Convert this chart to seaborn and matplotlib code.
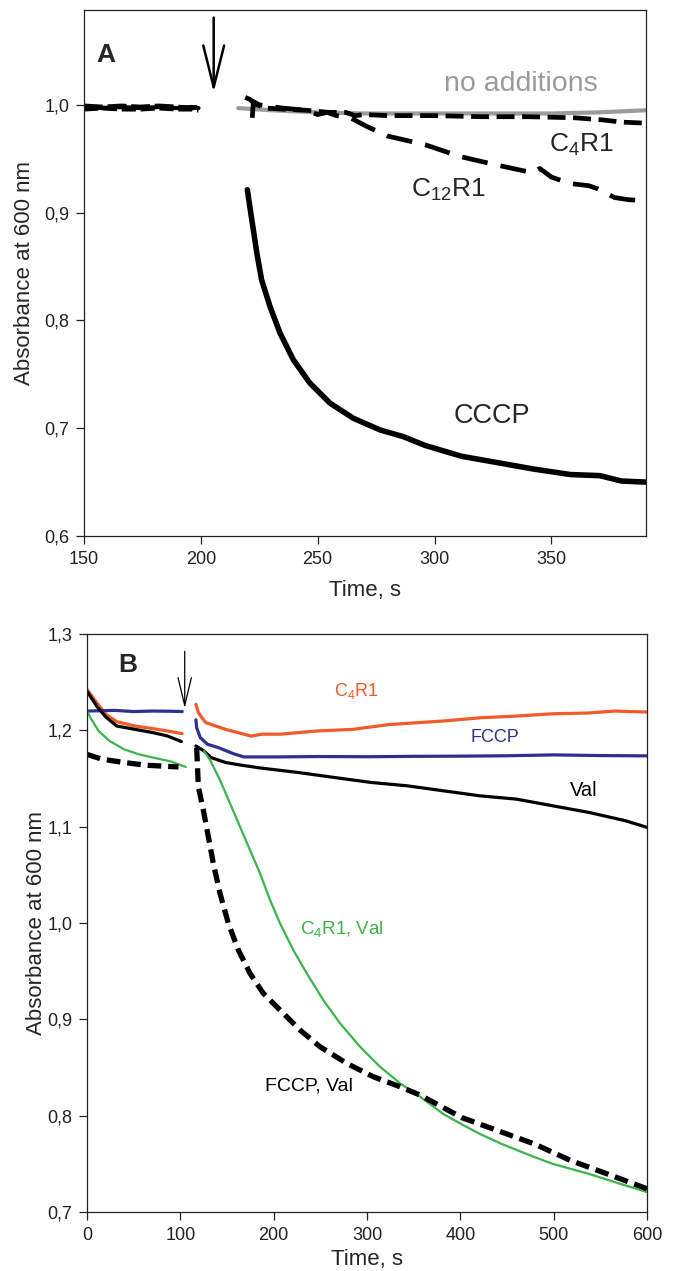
import matplotlib
matplotlib.use("Agg")
import matplotlib.pyplot as plt
import seaborn as sns
from matplotlib.ticker import FuncFormatter, FixedLocator

# ---------------- Panel A data ----------------
a_pre_t = [150, 158, 166, 174, 182, 190, 196, 199]
a_pre_cccp = [0.998, 0.997, 0.998, 0.997, 0.998, 0.997, 0.998, 0.997]
a_pre_c4 = [0.996, 0.997, 0.996, 0.996, 0.997, 0.996, 0.996, 0.995]
a_pre_c12 = [0.999, 0.998, 0.999, 0.998, 0.999, 0.998, 0.997, 0.998]

a_noadd_t = [216, 230, 250, 270, 290, 320, 350, 370, 390.5]
a_noadd_y = [0.997, 0.995, 0.993, 0.992, 0.992, 0.992, 0.992, 0.993, 0.995]

a_c4_t = [219, 221, 224, 228, 235, 245, 255, 262, 266, 270, 280, 300, 320, 340, 360, 372, 380, 390.5]
a_c4_y = [1.007, 1.005, 1.000, 0.997, 0.996, 0.995, 0.993, 0.993, 0.990, 0.991, 0.990, 0.990,
          0.989, 0.989, 0.988, 0.986, 0.984, 0.983]

a_c12_t = [222, 222.5, 225, 235, 245, 250, 254, 258, 264, 271, 280, 296, 311, 327, 342, 345,
           350, 358, 366, 370, 377, 383, 390.5]
a_c12_y = [0.988, 1.003, 1.000, 0.997, 0.995, 0.991, 0.993, 0.990, 0.988, 0.980, 0.971, 0.963,
           0.952, 0.944, 0.937, 0.941, 0.933, 0.927, 0.925, 0.922, 0.914, 0.912, 0.911]

a_cccp_t = [219.9, 221.0, 222.4, 224.0, 226.0, 229.6, 233.9, 239.6, 246.7, 255.3, 265.2, 276.7,
            286.6, 296, 311.5, 327.1, 342.7, 358.2, 370.7, 380, 390.5]
a_cccp_y = [0.9213, 0.905, 0.885, 0.862, 0.8377, 0.8129, 0.7882, 0.7634, 0.7418, 0.7232,
            0.7093, 0.6984, 0.6922, 0.684, 0.674, 0.668, 0.662, 0.657, 0.656, 0.651, 0.650]

a_xticks = [150, 200, 250, 300, 350]
a_yticks = [0.6, 0.7, 0.8, 0.9, 1.0]

# ---------------- Panel B data ----------------
b_c4_pre_t = [0, 10.5, 20.2, 31.9, 51.4, 70.8, 86.4, 101.9]
b_c4_pre_y = [1.2424, 1.2286, 1.2166, 1.209, 1.2045, 1.2017, 1.1993, 1.1966]
b_c4_t = [116.7, 119.5, 127.2, 148.6, 175.9, 187.5, 207, 246, 284.8, 323.7, 382, 421, 460,
          498.8, 537.7, 565, 600]
b_c4_y = [1.227, 1.218, 1.208, 1.201, 1.194, 1.196, 1.196, 1.1993, 1.201, 1.206, 1.2097,
          1.213, 1.2148, 1.2172, 1.218, 1.220, 1.219]

b_fccp_pre_t = [0, 30, 50, 70, 90, 102]
b_fccp_pre_y = [1.220, 1.2207, 1.2195, 1.2200, 1.2198, 1.2195]
b_fccp_t = [116.7, 117.5, 121.4, 129.2, 140.9, 156.4, 168, 200, 250, 300, 350, 400, 450,
            500, 550, 600]
b_fccp_y = [1.211, 1.2028, 1.1924, 1.1855, 1.182, 1.1759, 1.1724, 1.1724, 1.1728, 1.1726,
            1.1730, 1.1732, 1.1736, 1.1745, 1.1738, 1.1735]

b_val_pre_t = [0, 10.5, 20.2, 31.9, 51.4, 70.8, 86.4, 101.2]
b_val_pre_y = [1.2407, 1.225, 1.2138, 1.2045, 1.201, 1.1976, 1.1941, 1.1883]
b_val_t = [116.7, 125.3, 133, 148.6, 164, 187.5, 226.5, 265.4, 304.3, 343.2, 382.1, 421,
           459.9, 498.8, 537.7, 576.7, 600]
b_val_y = [1.1838, 1.1786, 1.1717, 1.1666, 1.164, 1.1607, 1.1562, 1.151, 1.1459, 1.1424,
           1.1372, 1.132, 1.1286, 1.1217, 1.1148, 1.1062, 1.0993]

b_c4val_pre_t = [0, 4.7, 12.5, 24.1, 39.7, 55.3, 70.8, 90.3, 105.8]
b_c4val_pre_y = [1.220, 1.2114, 1.1993, 1.189, 1.1803, 1.1752, 1.1717, 1.1676, 1.162]
b_c4val_t = [125.3, 131.8, 142.5, 153.2, 163.9, 174.6, 185.4, 196.1, 206.8, 221.0, 235.4,
             253.2, 271.1, 292.5, 313.9, 335.4, 356.8, 382.1, 401.6, 421, 444.4, 479.4,
             498.8, 537.7, 576.7, 600]
b_c4val_y = [1.1786, 1.1692, 1.1484, 1.1243, 1.100, 1.0758, 1.0516, 1.0239, 0.9997, 0.972,
             0.9478, 0.920, 0.8959, 0.8716, 0.8508, 0.8336, 0.8197, 0.8015, 0.791, 0.781,
             0.7706, 0.757, 0.750, 0.7396, 0.7276, 0.7207]

b_fv_pre_t = [0, 16.3, 39.7, 63, 98]
b_fv_pre_y = [1.175, 1.170, 1.1666, 1.1638, 1.162]
b_fv_t = [117.5, 119.3, 124.6, 130.0, 135.3, 142.5, 151.4, 162.1, 174.6, 188.9, 206.8, 228.2,
          249.6, 278.2, 306.8, 335.4, 356.8, 401.6, 440.5, 479.4, 518.3, 557.2, 600]
b_fv_y = [1.182, 1.1415, 1.1173, 1.0896, 1.062, 1.0308, 0.9997, 0.972, 0.9478, 0.927,
          0.9097, 0.8889, 0.8716, 0.8543, 0.8404, 0.830, 0.8214, 0.798, 0.7843, 0.7706,
          0.7534, 0.7396, 0.7241]

b_xticks = [0, 100, 200, 300, 400, 500, 600]
b_yticks = [0.7, 0.8, 0.9, 1.0, 1.1, 1.2, 1.3]

# ---------------- Style ----------------
sns.set_style("ticks")
plt.rcParams["font.family"] = ["Liberation Sans", "DejaVu Sans"]
plt.rcParams["mathtext.fontset"] = "custom"
plt.rcParams["mathtext.rm"] = "Liberation Sans"
plt.rcParams["mathtext.default"] = "regular"

ORANGE = "#f15a29"
BLUE = "#2e3192"
GREEN = "#39b54a"
GRAY = "#9b9b9b"

fig = plt.figure(figsize=(6.76, 12.71), dpi=100)
axA = fig.add_axes([84 / 676, 1 - 536 / 1271, 562 / 676, 526 / 1271])
axB = fig.add_axes([87 / 676, 1 - 1212 / 1271, 560 / 676, 578 / 1271])


def line(ax, t, y, **kw):
    sns.lineplot(x=t, y=y, ax=ax, estimator=None, sort=False, legend=False, **kw)


comma = FuncFormatter(lambda v, p: f"{v:.1f}".replace(".", ","))
intfmt = FuncFormatter(lambda v, p: f"{v:.0f}")

# ---------------- Panel A ----------------
line(axA, a_noadd_t, a_noadd_y, color=GRAY, lw=3.0)
line(axA, a_pre_t, a_pre_c12, color="black", lw=3.4, linestyle=(0, (4, 1)))
line(axA, a_pre_t, a_pre_c4, color="black", lw=3.4, linestyle=(0, (3, 1)))
line(axA, a_pre_t, a_pre_cccp, color="black", lw=3.0)
line(axA, a_c4_t, a_c4_y, color="black", lw=3.4, linestyle=(0, (3.8, 1.6)))
line(axA, a_c12_t, a_c12_y, color="black", lw=3.4, linestyle=(0, (5.5, 2.8)))
line(axA, a_cccp_t, a_cccp_y, color="black", lw=4.0)

axA.annotate("", xy=(205.5, 1.0116), xytext=(205.5, 1.081),
             arrowprops=dict(arrowstyle="->,head_length=3.0,head_width=0.75",
                             mutation_scale=10, lw=1.8, color="black",
                             shrinkA=0, shrinkB=0))

axA.text(159.5, 1.046, "A", fontsize=19, fontweight="bold", ha="center", va="center")
axA.text(337, 1.0195, "no additions", fontsize=20.5, color=GRAY, ha="center", va="center")
axA.text(363, 0.963, "C$_4$R1", fontsize=19, ha="center", va="center")
axA.text(306, 0.921, "C$_{12}$R1", fontsize=19, ha="center", va="center")
axA.text(324.7, 0.711, "CCCP", fontsize=19.5, ha="center", va="center")

axA.set_xlim(150, 390.5)
axA.set_ylim(0.6, 1.088)
axA.xaxis.set_major_locator(FixedLocator(a_xticks))
axA.yaxis.set_major_locator(FixedLocator(a_yticks))
axA.yaxis.set_major_formatter(comma)
axA.xaxis.set_major_formatter(intfmt)
axA.set_xlabel("Time, s", fontsize=16, labelpad=9)
axA.set_ylabel("Absorbance at 600 nm", fontsize=16, labelpad=7)

# ---------------- Panel B ----------------
line(axB, b_c4_pre_t, b_c4_pre_y, color=ORANGE, lw=2.3)
line(axB, b_c4_t, b_c4_y, color=ORANGE, lw=2.3)
line(axB, b_fccp_pre_t, b_fccp_pre_y, color=BLUE, lw=2.3)
line(axB, b_fccp_t, b_fccp_y, color=BLUE, lw=2.3)
line(axB, b_val_pre_t, b_val_pre_y, color="black", lw=2.3)
line(axB, b_val_t, b_val_y, color="black", lw=2.3)
line(axB, b_c4val_pre_t, b_c4val_pre_y, color=GREEN, lw=1.6)
line(axB, b_c4val_t, b_c4val_y, color=GREEN, lw=1.6)
line(axB, b_fv_pre_t, b_fv_pre_y, color="black", lw=3.8, linestyle=(0, (2.6, 1.3)))
line(axB, b_fv_t, b_fv_y, color="black", lw=3.8, linestyle=(0, (2.6, 1.3)))

axB.annotate("", xy=(104.7, 1.223), xytext=(104.7, 1.282),
             arrowprops=dict(arrowstyle="->,head_length=2.0,head_width=0.48",
                             mutation_scale=10, lw=0.9, color="black",
                             shrinkA=0, shrinkB=0))

axB.text(43.6, 1.268, "B", fontsize=19, fontweight="bold", ha="center", va="center")
axB.text(288.7, 1.2407, "C$_4$R1", fontsize=13, color=ORANGE, ha="center", va="center")
axB.text(436.6, 1.1924, "FCCP", fontsize=13, color=BLUE, ha="center", va="center")
axB.text(532.5, 1.1372, "Val", fontsize=14.5, color="black", ha="center", va="center")
axB.text(273.2, 0.9937, "C$_4$R1, Val", fontsize=13.5, color=GREEN, ha="center", va="center")
axB.text(238.1, 0.8307, "FCCP, Val", fontsize=14, color="black", ha="center", va="center")

axB.set_xlim(0, 600)
axB.set_ylim(0.7, 1.3)
axB.xaxis.set_major_locator(FixedLocator(b_xticks))
axB.yaxis.set_major_locator(FixedLocator(b_yticks))
axB.yaxis.set_major_formatter(comma)
axB.xaxis.set_major_formatter(intfmt)
axB.set_xlabel("Time, s", fontsize=16, labelpad=4)
axB.set_ylabel("Absorbance at 600 nm", fontsize=16, labelpad=0)

for ax in (axA, axB):
    for s in ax.spines.values():
        s.set_linewidth(0.9)
        s.set_color("#222222")
    ax.tick_params(direction="out", length=5.5, width=0.9, labelsize=13, pad=5,
                   colors="#222222")
    ax.tick_params(top=False, right=False)

fig.savefig("out.png", dpi=100)
